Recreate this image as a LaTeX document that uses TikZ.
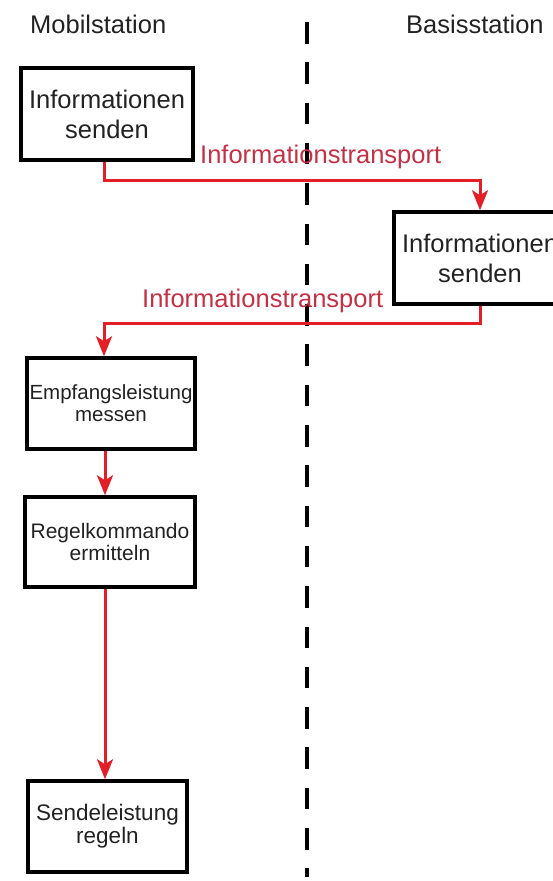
\documentclass[tikz,border=0pt]{standalone}
\usepackage{fontspec}
\setmainfont{Liberation Sans}
\usetikzlibrary{arrows.meta}
\definecolor{flowred}{RGB}{228,30,38}
\definecolor{labelred}{RGB}{196,48,68}
\definecolor{boxtext}{RGB}{34,34,34}
\tikzset{
  box/.style={draw=black, line width=3.5pt, align=center, inner sep=0pt, text=boxtext},
  bigtext/.style={font=\fontsize{25.5}{30}\selectfont},
  smalltext/.style={font=\fontsize{20.5}{22}\selectfont},
  flow/.style={draw=flowred, line width=3pt, -{Stealth[length=20pt,width=16pt,inset=5pt]}},
  flowlabel/.style={text=labelred, font=\fontsize{25.5}{30}\selectfont, inner sep=0pt},
  title/.style={text=boxtext, font=\fontsize{25.5}{30}\selectfont, inner sep=0pt},
  divider/.style={draw=black, line width=4pt, dash pattern=on 21.5pt off 18.8pt}
}
\begin{document}
\begin{tikzpicture}[x=1pt, y=-1pt]
  \useasboundingbox (0,0) rectangle (553,881);
  \clip (0,0) rectangle (553,881);
  % titles
  \node[title, anchor=base west] (mobil) at (30,33.5) {Mobilstation};
  \node[title, anchor=base west] (basis) at (406,33.5) {Basisstation};
  % divider
  \coordinate (dtop) at (307,22);
  \coordinate (dbot) at (307,877);
  \draw[divider] (dtop) -- (dbot);
  % boxes
  \node[box, bigtext, minimum width=172pt, minimum height=92pt] (b1) at (107,114) {Informationen\\senden};
  \node[box, bigtext, minimum width=172pt, minimum height=92pt] (b2) at (480,258) {Informationen\\senden};
  \node[box, smalltext, minimum width=168pt, minimum height=91pt] (b3) at (111,403.5) {Empfangsleistung\\messen};
  \node[box, font=\fontsize{21}{22.5}\selectfont, minimum width=170pt, minimum height=90pt] (b4) at (110,542) {Regelkommando\\ermitteln};
  \node[box, font=\fontsize{22.5}{23}\selectfont, minimum width=159pt, minimum height=91pt] (b5) at (107.5,826.5) {Sendeleistung\\regeln};
  % helper coordinates
  \coordinate (c1) at (104,0);
  \coordinate (c2) at (105,0);
  \coordinate (h1) at (0,180);
  \coordinate (h2) at (0,323);
  % connectors
  \draw[flow] (b1.south -| c1) |- (h1 -| b2.north) -- (b2.north);
  \draw[flow] (b2.south) |- (h2 -| c1) -- (b3.north -| c1);
  \draw[flow] (b3.south -| c2) -- (b4.north -| c2);
  \draw[flow] (b4.south -| c2) -- (b5.north -| c2);
  % labels
  \node[flowlabel, anchor=base west] (l1) at (200,163) {Informationstransport};
  \node[flowlabel, anchor=base west] (l2) at (142,307) {Informationstransport};
\end{tikzpicture}
\end{document}
